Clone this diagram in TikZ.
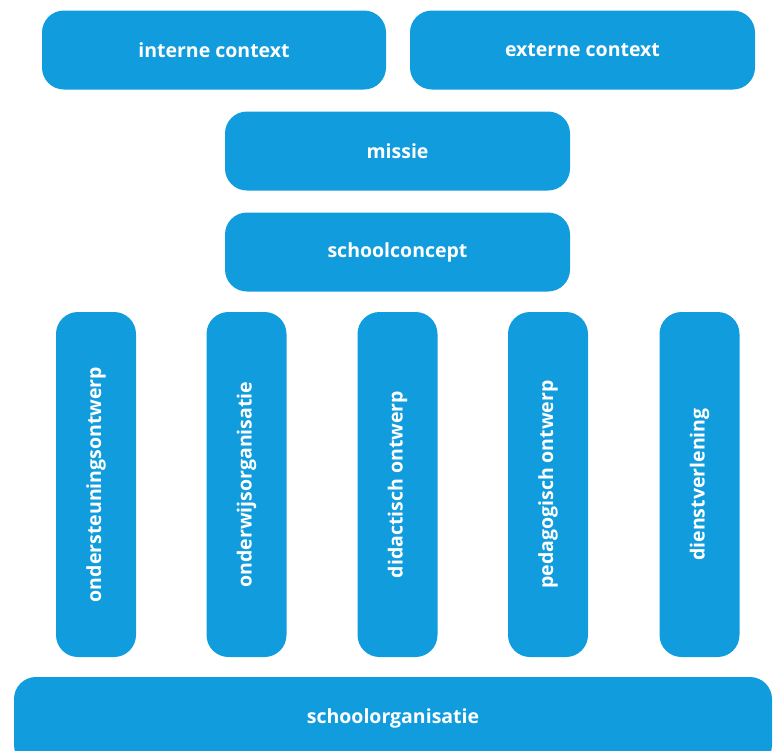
\documentclass[tikz,border=0pt]{standalone}
\usepackage{fontspec}
\setmainfont{Open Sans}
\definecolor{blok}{RGB}{16,156,221}
\tikzset{
  blok/.style={fill=blok, rounded corners=22pt, text=white, font=\bfseries\fontsize{19.5}{21}\selectfont, inner sep=0pt},
  breed/.style={blok, minimum width=#1, minimum height=79pt},
  pijler/.style={blok, minimum width=345pt, minimum height=80pt, rotate=90}
}
\begin{document}
\begin{tikzpicture}[x=1pt,y=-1pt]
  \useasboundingbox (0,0) rectangle (774,750);
  % context en missie
  \node[breed=344pt] (intern) at (214,50) {interne context};
  \node[breed=345pt] (extern) at (582.5,50) {externe context};
  \node[breed=345pt] (missie) at (397.5,151) {missie};
  \node[breed=345pt] (concept) at (397.5,252) {schoolconcept};
  % de vijf pijlers
  \node[pijler] (ondersteuning) at (96,484.5) {ondersteuningsontwerp};
  \node[pijler] (onderwijs) at (246.5,484.5) {onderwijsorganisatie};
  \node[pijler] (didactisch) at (397.5,484.5) {didactisch ontwerp};
  \node[pijler] (pedagogisch) at (548,484.5) {pedagogisch ontwerp};
  \node[pijler] (dienst) at (699.5,484.5) {dienstverlening};
  % fundament
  \node[breed=758pt, minimum height=90pt] (organisatie) at (393,722) {};
  \node[text=white, font=\bfseries\fontsize{19.5}{21}\selectfont] (organisatielabel) at (393,718) {schoolorganisatie};
\end{tikzpicture}
\end{document}
